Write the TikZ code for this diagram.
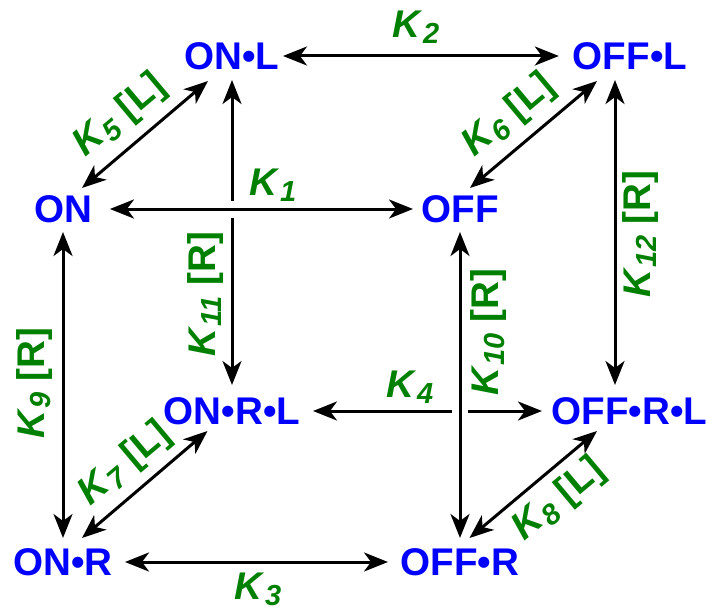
\documentclass[tikz,border=0pt]{standalone}
\usepackage{fontspec}
\setmainfont{Liberation Sans}
\usetikzlibrary{arrows.meta}
\definecolor{statecol}{RGB}{0,0,255}
\definecolor{ratecol}{RGB}{0,128,0}
% rate constant K with an italic subscript
\newcommand\rk[1]{\textit{K}\raisebox{-6pt}{\fontsize{29pt}{29pt}\selectfont\textit{#1}}}

\begin{document}
\begin{tikzpicture}[x=1pt,y=-1pt,
  state/.style={text=statecol, font=\fontsize{38.6pt}{40pt}\selectfont\bfseries,
    inner sep=0pt, outer sep=0pt, text height=27.6pt, text depth=0pt},
  rate/.style={text=ratecol, font=\fontsize{38.6pt}{40pt}\selectfont\bfseries, inner sep=0pt},
  link/.style={{Stealth[length=24pt,width=19pt,inset=7pt]}-{Stealth[length=24pt,width=19pt,inset=7pt]},
    line width=3pt, black},
  gapline/.style={white, line width=5pt}
]
\useasboundingbox (0,0) rectangle (707,607);

% states
\node[state] (ONL)   at (232,56)    {ON•L};
\node[state] (OFFL)  at (630,56)    {OFF•L};
\node[state] (ON)    at (63,209)    {ON};
\node[state] (OFF)   at (460,209)   {OFF};
\node[state] (ONRL)  at (232,411)   {ON•R•L};
\node[state] (OFFRL) at (629.5,411) {OFF•R•L};
\node[state] (ONR)   at (63,562)    {ON•R};
\node[state] (OFFR)  at (460,562)   {OFF•R};

% back vertical edge, broken where the K1 edge passes in front
\draw[link, shorten <=10.2pt, shorten >=12.2pt] (ONL.south) -- (ONRL.north);
\coordinate (X1) at (ONL |- ON);
\draw[gapline] ([yshift=8.5pt]X1) -- ([yshift=-8.5pt]X1);

% horizontal edges
\draw[link, shorten <=3.5pt, shorten >=14pt] (ONL.east) -- (OFFL.west);
\draw[link, shorten <=18pt, shorten >=8.4pt] (ON.east) -- (OFF.west);
\draw[link, shorten <=12.8pt, shorten >=9.7pt] (ONRL.east) -- (OFFRL.west);
\draw[link, shorten <=12.4pt, shorten >=12.7pt] (ONR.east) -- (OFFR.west);

% front vertical edge crossing K4
\coordinate (X2) at (OFF |- ONRL);
\draw[gapline] ([xshift=-8pt]X2) -- ([xshift=8pt]X2);
\draw[link, shorten <=9.2pt, shorten >=10.2pt] (OFF.south) -- (OFFR.north);

% remaining vertical edges
\draw[link, shorten <=9.2pt, shorten >=10.2pt] (ON.south) -- (ONR.north);
\draw[link, shorten <=10.2pt, shorten >=12.2pt] ([xshift=-15pt]OFFL.south) -- ([xshift=-14.5pt]OFFRL.north);

% diagonal edges
\draw[link] ([shift={(19pt,21pt)}]ON.center) -- ([shift={(-24pt,-25pt)}]ONL.center);
\draw[link] ([shift={(10pt,21pt)}]OFF.center) -- ([shift={(-33pt,-25pt)}]OFFL.center);
\draw[link] ([shift={(19pt,24pt)}]ONR.center) -- ([shift={(-24.5pt,-20pt)}]ONRL.center);
\draw[link] ([shift={(9.5pt,24pt)}]OFFR.center) -- ([shift={(-32.5pt,-20pt)}]OFFRL.center);

% rate labels
\node[rate] (k2) at (416,27)  {\rk{2}};
\node[rate] (k1) at (273,185) {\rk{1}};
\node[rate] (k4) at (410,387) {\rk{4}};
\node[rate] (k3) at (258,589) {\rk{3}};
\node[rate, rotate=90] (k9)  at (35,383)  {\rk{9} [R]};
\node[rate, rotate=90] (k11) at (206,294) {\rk{11} [R]};
\node[rate, rotate=90] (k10) at (489,332) {\rk{10} [R]};
\node[rate, rotate=90] (k12) at (641,234) {\rk{12} [R]};
\node[rate, rotate=40] (k5) at (120,116) {\rk{5} [L]};
\node[rate, rotate=40] (k6) at (509,116) {\rk{6} [L]};
\node[rate, rotate=40] (k7) at (125,464) {\rk{7} [L]};
\node[rate, rotate=40] (k8) at (559,500) {\rk{8} [L]};
\end{tikzpicture}
\end{document}
